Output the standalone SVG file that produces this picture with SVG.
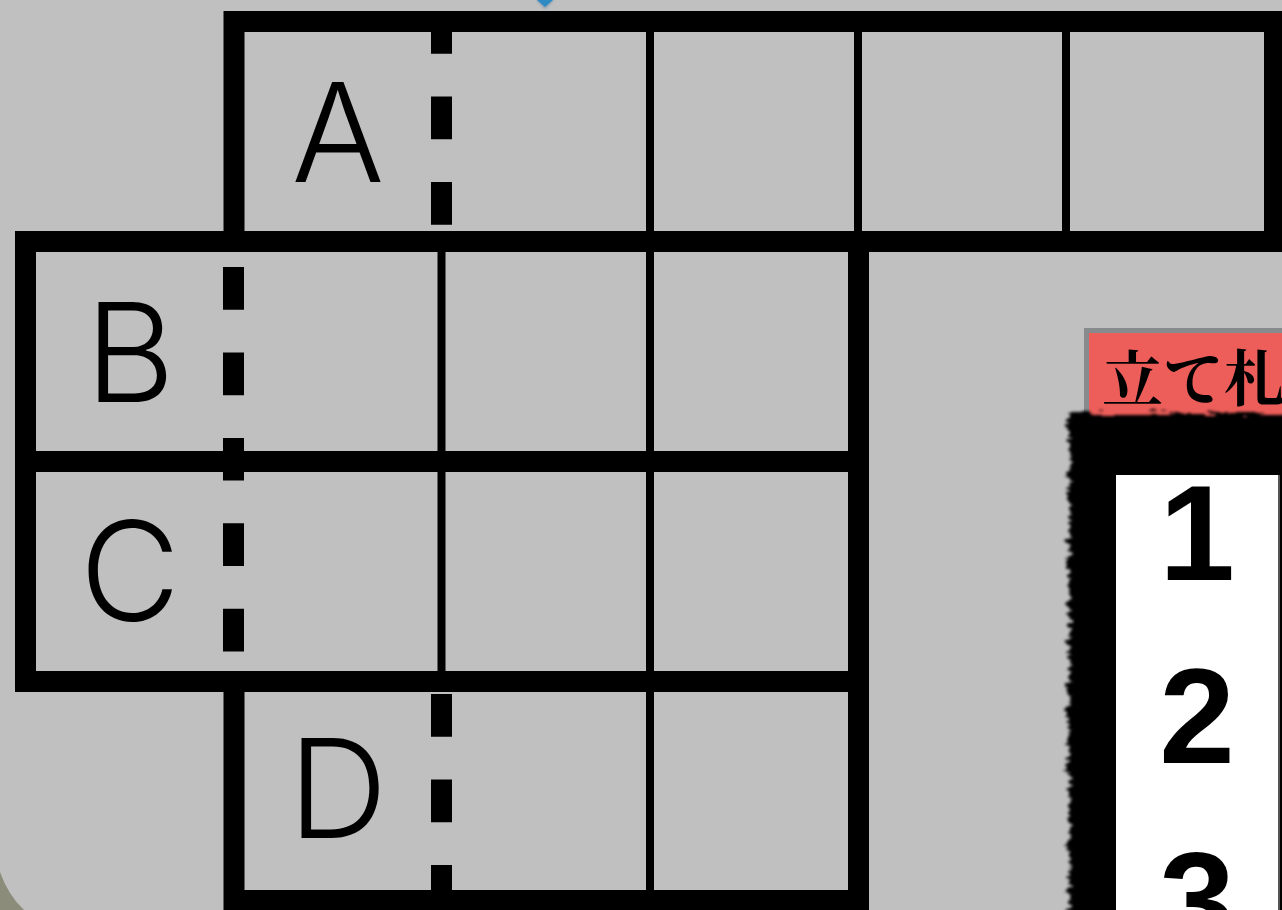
<svg xmlns="http://www.w3.org/2000/svg" width="1282" height="910" viewBox="0 0 1282 910">
  <defs>
    <style>
      .thick { fill: none; stroke: #000; stroke-width: 21; }
      .thin { stroke: #000; stroke-width: 8; }
      .dash { stroke: #000; stroke-width: 21; stroke-dasharray: 42.75 42.75; }
      .lbl { font-family: Inter, "Liberation Sans", sans-serif; font-weight: 300; font-size: 138px; fill: #000; text-anchor: middle; }
      .num { font-family: "Liberation Sans", Arial, sans-serif; font-weight: bold; font-size: 136px; fill: #000; text-anchor: middle; }
      .sign { font-family: "Noto Serif CJK JP", "Noto Sans CJK JP", serif; font-weight: bold; font-size: 61px; fill: #000; }
    </style>
    <filter id="brush" x="-20%" y="-20%" width="140%" height="140%">
      <feTurbulence type="fractalNoise" baseFrequency="0.04 0.25" numOctaves="3" seed="4" result="n"/>
      <feDisplacementMap in="SourceGraphic" in2="n" scale="16" xChannelSelector="R" yChannelSelector="G" result="d"/>
      <feGaussianBlur in="d" stdDeviation="1.5"/>
    </filter>
    <filter id="soft" x="-50%" y="-50%" width="200%" height="200%">
      <feGaussianBlur stdDeviation="1.5"/>
    </filter>
  </defs>

  <!-- backdrop -->
  <rect x="0" y="0" width="1282" height="910" fill="#8b8d7a"/>
  <path d="M0,0 H1282 V910 H24 Q8,895 0,872 Z" fill="#c0c0c0"/>

  <!-- blue pointer at top -->
  <g id="pointer">
    <polygon points="536,-1 554,-1 545,9" fill="#1f5f8a" opacity="0.4" filter="url(#soft)"/>
    <polygon points="537,0 553,0 545,7" fill="#2f8ac4"/>
  </g>

  <!-- row A -->
  <g id="row-A">
    <rect class="thick" x="234" y="21.5" width="1040.5" height="220"/>
    <line class="dash" x1="441.5" y1="11" x2="441.5" y2="231"/>
    <line class="thin" x1="650" y1="32" x2="650" y2="231"/>
    <line class="thin" x1="858" y1="32" x2="858" y2="231"/>
    <line class="thin" x1="1066" y1="32" x2="1066" y2="231"/>
    <text class="lbl" x="338" y="182">A</text>
  </g>

  <!-- row B -->
  <g id="row-B">
    <rect class="thick" x="25.5" y="241.5" width="833" height="220"/>
    <line class="dash" x1="233.5" y1="267" x2="233.5" y2="461.5"/>
    <line class="thin" x1="441.5" y1="252" x2="441.5" y2="451"/>
    <line class="thin" x1="650" y1="252" x2="650" y2="451"/>
    <text class="lbl" x="130" y="402">B</text>
  </g>

  <!-- row C -->
  <g id="row-C">
    <rect class="thick" x="25.5" y="461.5" width="833" height="220"/>
    <line class="dash" style="stroke-dashoffset:23.7" x1="233.5" y1="461.5" x2="233.5" y2="671"/>
    <line class="thin" x1="441.5" y1="472" x2="441.5" y2="671"/>
    <line class="thin" x1="650" y1="472" x2="650" y2="671"/>
    <text class="lbl" x="130" y="621">C</text>
  </g>

  <!-- row D -->
  <g id="row-D">
    <rect class="thick" x="234" y="681.5" width="624.5" height="219"/>
    <line class="dash" x1="441.5" y1="694" x2="441.5" y2="910"/>
    <line class="thin" x1="650" y1="692" x2="650" y2="890"/>
    <text class="lbl" x="338" y="838">D</text>
  </g>

  <!-- notice board -->
  <g id="notice-board">
    <rect x="1086.5" y="330.5" width="220" height="95" fill="#ed5e5a" stroke="#878b8d" stroke-width="5"/>
    <text class="sign" x="1102" y="401">立て札</text>
    <rect x="1069" y="414" width="260" height="520" fill="#000" filter="url(#brush)"/>
    <rect x="1116" y="475" width="162" height="440" fill="#fff"/>
    <line x1="1279" y1="475" x2="1279" y2="910" stroke="#555" stroke-width="2"/>
    <text class="num" x="1197" y="580">1</text>
    <text class="num" x="1197" y="763">2</text>
    <text class="num" x="1197" y="946">3</text>
  </g>
</svg>
